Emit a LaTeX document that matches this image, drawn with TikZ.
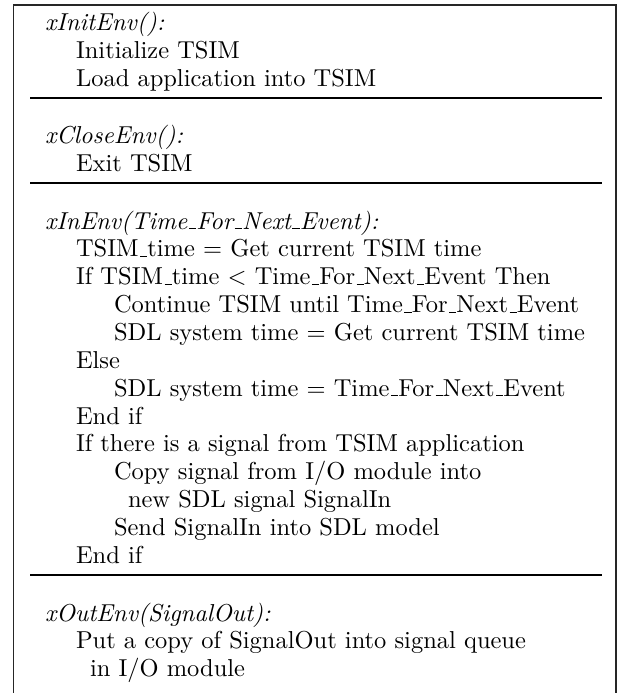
\documentclass[tikz,border=0pt]{standalone}
\newlength\Lw
\newcommand\us{\leavevmode\kern.06em\vbox{\hrule width.3em}}
\begin{document}
\settowidth\Lw{SDL system time $=$ Get current TSIM time}
\begin{tikzpicture}[x=\Lw/471, y=-\Lw/471,
  ln/.style={anchor=base west, inner sep=0pt, outer sep=0pt},
  frame/.style={line width=0.65pt, draw=black!85},
  sepline/.style={line width=0.7pt, draw=black}]
\useasboundingbox (0,0) rectangle (621,693);
% frame
\draw[frame] (13.5,700) -- (13.5,5) -- (616,5) -- (616,700);
% separators
\foreach \yy in {98,183,575} \draw[sepline] (30,\yy) -- (602,\yy);
% section 1
\node[ln] (t1) at (45,30) {\textit{xInitEnv():}};
\node[ln] (t2) at (76,58) {Initialize TSIM};
\node[ln] (t3) at (76,86) {Load application into TSIM};
% section 2
\node[ln] (t4) at (45,143.5) {\textit{xCloseEnv():}};
\node[ln] (t5) at (76,171.4) {Exit TSIM};
% section 3
\node[ln] (t6) at (45,229) {\textit{xInEnv(Time\us For\us Next\us Event):}};
\node[ln] (t7) at (76,256.9) {TSIM\us time $=$ Get current TSIM time};
\node[ln] (t8) at (76,284.7) {If TSIM\us time $<$ Time\us For\us Next\us Event Then};
\node[ln] (t9) at (114,312.6) {Continue TSIM until Time\us For\us Next\us Event};
\node[ln] (t10) at (114,340.4) {SDL system time $=$ Get current TSIM time};
\node[ln] (t11) at (76,368.3) {Else};
\node[ln] (t12) at (114,396.2) {SDL system time $=$ Time\us For\us Next\us Event};
\node[ln] (t13) at (76,424) {End if};
\node[ln] (t14) at (76,451.9) {If there is a signal from TSIM application};
\node[ln] (t15) at (114,479.7) {Copy signal from I/O module into};
\node[ln] (t16) at (128,507.6) {new SDL signal SignalIn};
\node[ln] (t17) at (114,535.5) {Send SignalIn into SDL model};
\node[ln] (t18) at (76,563.3) {End if};
% section 4
\node[ln] (t19) at (45,621) {\textit{xOutEnv(SignalOut):}};
\node[ln] (t20) at (76,648.9) {Put a copy of SignalOut into signal queue};
\node[ln] (t21) at (90,676.7) {in I/O module};
\end{tikzpicture}
\end{document}
